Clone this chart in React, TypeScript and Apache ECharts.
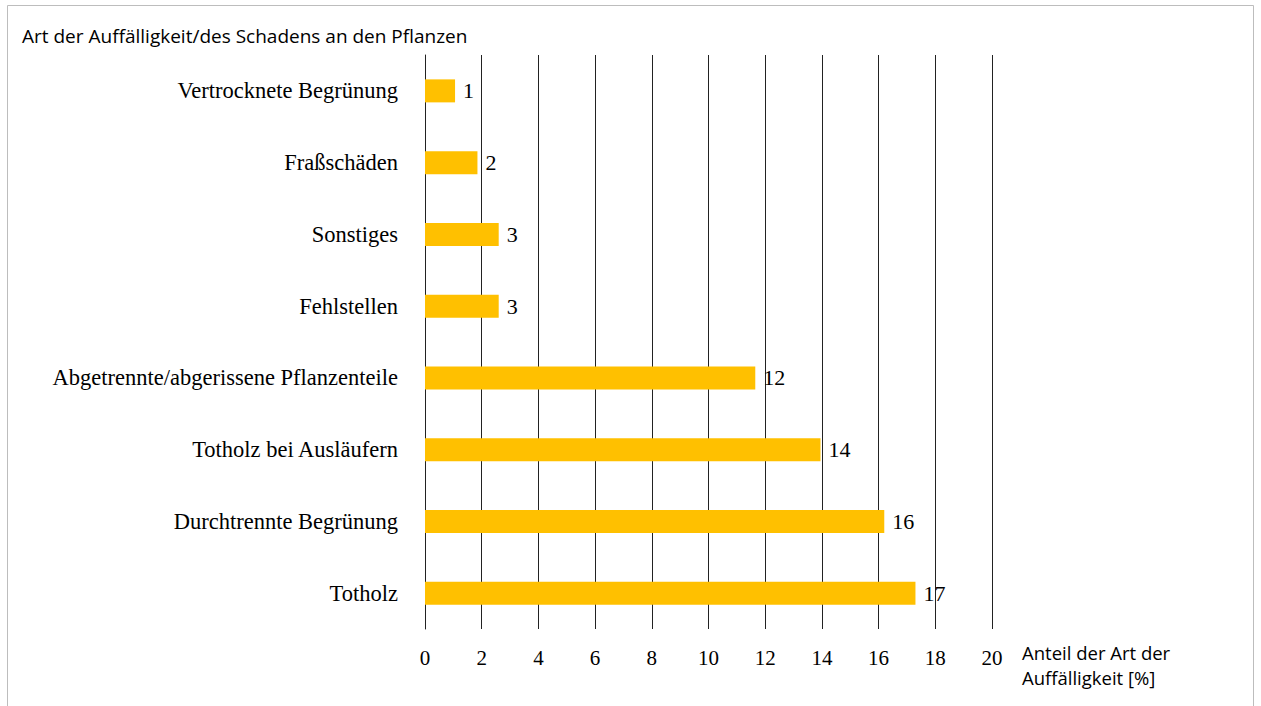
import React, { useEffect, useRef } from "react";
import * as echarts from "echarts";

const categories = [
  "Vertrocknete Begrünung",
  "Fraßschäden",
  "Sonstiges",
  "Fehlstellen",
  "Abgetrennte/abgerissene Pflanzenteile",
  "Totholz bei Ausläufern",
  "Durchtrennte Begrünung",
  "Totholz",
];
const values = [1.06, 1.85, 2.6, 2.6, 11.65, 13.95, 16.2, 17.3];
const valueLabels = ["1", "2", "3", "3", "12", "14", "16", "17"];
const xTicks = { min: 0, max: 20, interval: 2 };
const titleText = "Art der Auffälligkeit/des Schadens an den Pflanzen";
const xAxisName = "Anteil der Art der\nAuffälligkeit [%]";

export default function App() {
  const ref = useRef<HTMLDivElement>(null);
  useEffect(() => {
    document.body.style.margin = "0";
    if (!ref.current) return;
    const chart = echarts.init(ref.current, undefined, { renderer: "svg" });
    const serif = "'Liberation Serif', 'Times New Roman', serif";
    const sans = "'Open Sans', 'Noto Sans', sans-serif";
    chart.setOption({
      animation: false,
      backgroundColor: "#ffffff",
      title: {
        text: titleText,
        left: 17,
        top: 21,
        textStyle: { fontFamily: sans, fontSize: 19, fontWeight: "normal", color: "#000" },
      },
      graphic: [
        {
          type: "rect",
          silent: true,
          shape: { x: 7.5, y: 5.5, width: 1246, height: 720 },
          style: { fill: "none", stroke: "#bdbdbd", lineWidth: 1 },
        },
        {
          type: "text",
          silent: true,
          left: 1022,
          top: 640,
          style: {
            text: xAxisName,
            fontFamily: sans,
            fontSize: 18.5,
            lineHeight: 25,
            fill: "#000",
          },
        },
      ],
      grid: { left: 425, right: 269, top: 55, bottom: 77, containLabel: false },
      xAxis: {
        type: "value",
        min: xTicks.min,
        max: xTicks.max,
        interval: xTicks.interval,
        axisLine: { show: false },
        axisTick: { show: false },
        splitLine: { show: true, lineStyle: { color: "#222", width: 1 } },
        axisLabel: { margin: 18, fontFamily: serif, fontSize: 21, color: "#000" },
      },
      yAxis: {
        type: "category",
        data: categories,
        inverse: true,
        axisLine: { show: true, lineStyle: { color: "#222", width: 1 } },
        axisTick: { show: false },
        axisLabel: { margin: 27, fontFamily: serif, fontSize: 22.5, color: "#000" },
      },
      series: [
        {
          type: "bar",
          data: values,
          barWidth: 23,
          itemStyle: { color: "#FFC000" },
          label: {
            show: true,
            position: "right",
            distance: 8,
            fontFamily: serif,
            fontSize: 22,
            color: "#000",
            formatter: (p: any) => valueLabels[p.dataIndex],
          },
        },
      ],
    });
    return () => chart.dispose();
  }, []);
  return <div ref={ref} style={{ width: 1261, height: 706 }} />;
}
